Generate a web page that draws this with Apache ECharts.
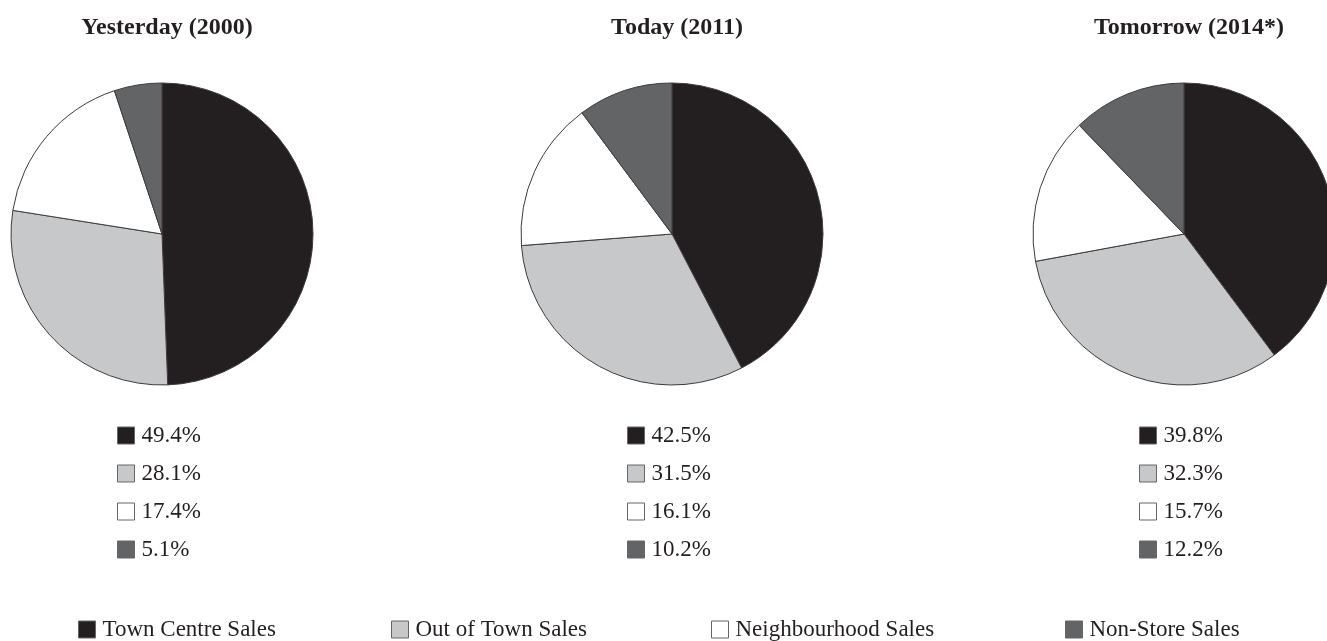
<!DOCTYPE html>
<html>
<head>
<meta charset="utf-8">
<script src="https://cdn.jsdelivr.net/npm/echarts@6/dist/echarts.min.js"></script>
<style>
html,body{margin:0;padding:0;background:#fff;}
#chart{width:1327px;height:641px;}
</style>
</head>
<body>
<div id="chart"></div>
<script>
var categories = ['Town Centre Sales', 'Out of Town Sales', 'Neighbourhood Sales', 'Non-Store Sales'];
var pieTitles = ['Yesterday (2000)', 'Today (2011)', 'Tomorrow (2014*)'];
var yesterday2000 = [49.4, 28.1, 17.4, 5.1];
var today2011 = [42.5, 31.5, 16.1, 10.2];
var tomorrow2014 = [39.8, 32.3, 15.7, 12.2];
var sliceColors = ['#231f20', '#c7c8ca', '#ffffff', '#636466'];

var pieValues = [yesterday2000, today2011, tomorrow2014];
var centersX = [162, 672, 1184];
var FONT = '"Liberation Serif", "DejaVu Serif", serif';
var TXT = '#231f20';

var chart = echarts.init(document.getElementById('chart'), null, {renderer: 'canvas'});

var titles = pieTitles.map(function (t, i) {
  return {
    text: t,
    left: centersX[i],
    textAlign: 'center',
    top: 11,
    textStyle: {fontFamily: FONT, fontSize: 24, fontWeight: 'bold', color: TXT}
  };
});

var series = pieValues.map(function (vals, i) {
  return {
    type: 'pie',
    center: [centersX[i], 234],
    radius: 151,
    startAngle: 90,
    clockwise: true,
    animation: false,
    label: {show: false},
    labelLine: {show: false},
    emphasis: {disabled: true},
    itemStyle: {borderColor: '#3c3c3c', borderWidth: 1},
    data: categories.map(function (c, j) {
      return {name: c, value: vals[j], itemStyle: {color: sliceColors[j]}};
    })
  };
});

var legends = [];
pieValues.forEach(function (vals, i) {
  legends.push({
    orient: 'vertical',
    left: centersX[i] - 45,
    top: 424,
    padding: 0,
    icon: 'rect',
    itemWidth: 17,
    itemHeight: 17,
    itemGap: 15,
    selectedMode: false,
    data: categories,
    itemStyle: {borderColor: '#666', borderWidth: 1},
    formatter: function (name) {
      return vals[categories.indexOf(name)].toFixed(1) + '%';
    },
    textStyle: {fontFamily: FONT, fontSize: 23, color: TXT, padding: [0, 0, 0, 2]}
  });
});
var bottomLeft = [78, 391, 711, 1065];
categories.forEach(function (c, j) {
  legends.push({
    orient: 'horizontal',
    left: bottomLeft[j],
    top: 618,
    padding: 0,
    icon: 'rect',
    itemWidth: 17,
    itemHeight: 17,
    selectedMode: false,
    data: [c],
    itemStyle: {borderColor: '#666', borderWidth: 1},
    textStyle: {fontFamily: FONT, fontSize: 23, color: TXT, padding: [0, 0, 0, 2]}
  });
});

chart.setOption({
  backgroundColor: '#ffffff',
  animation: false,
  title: titles,
  legend: legends,
  series: series
});
</script>
</body>
</html>
